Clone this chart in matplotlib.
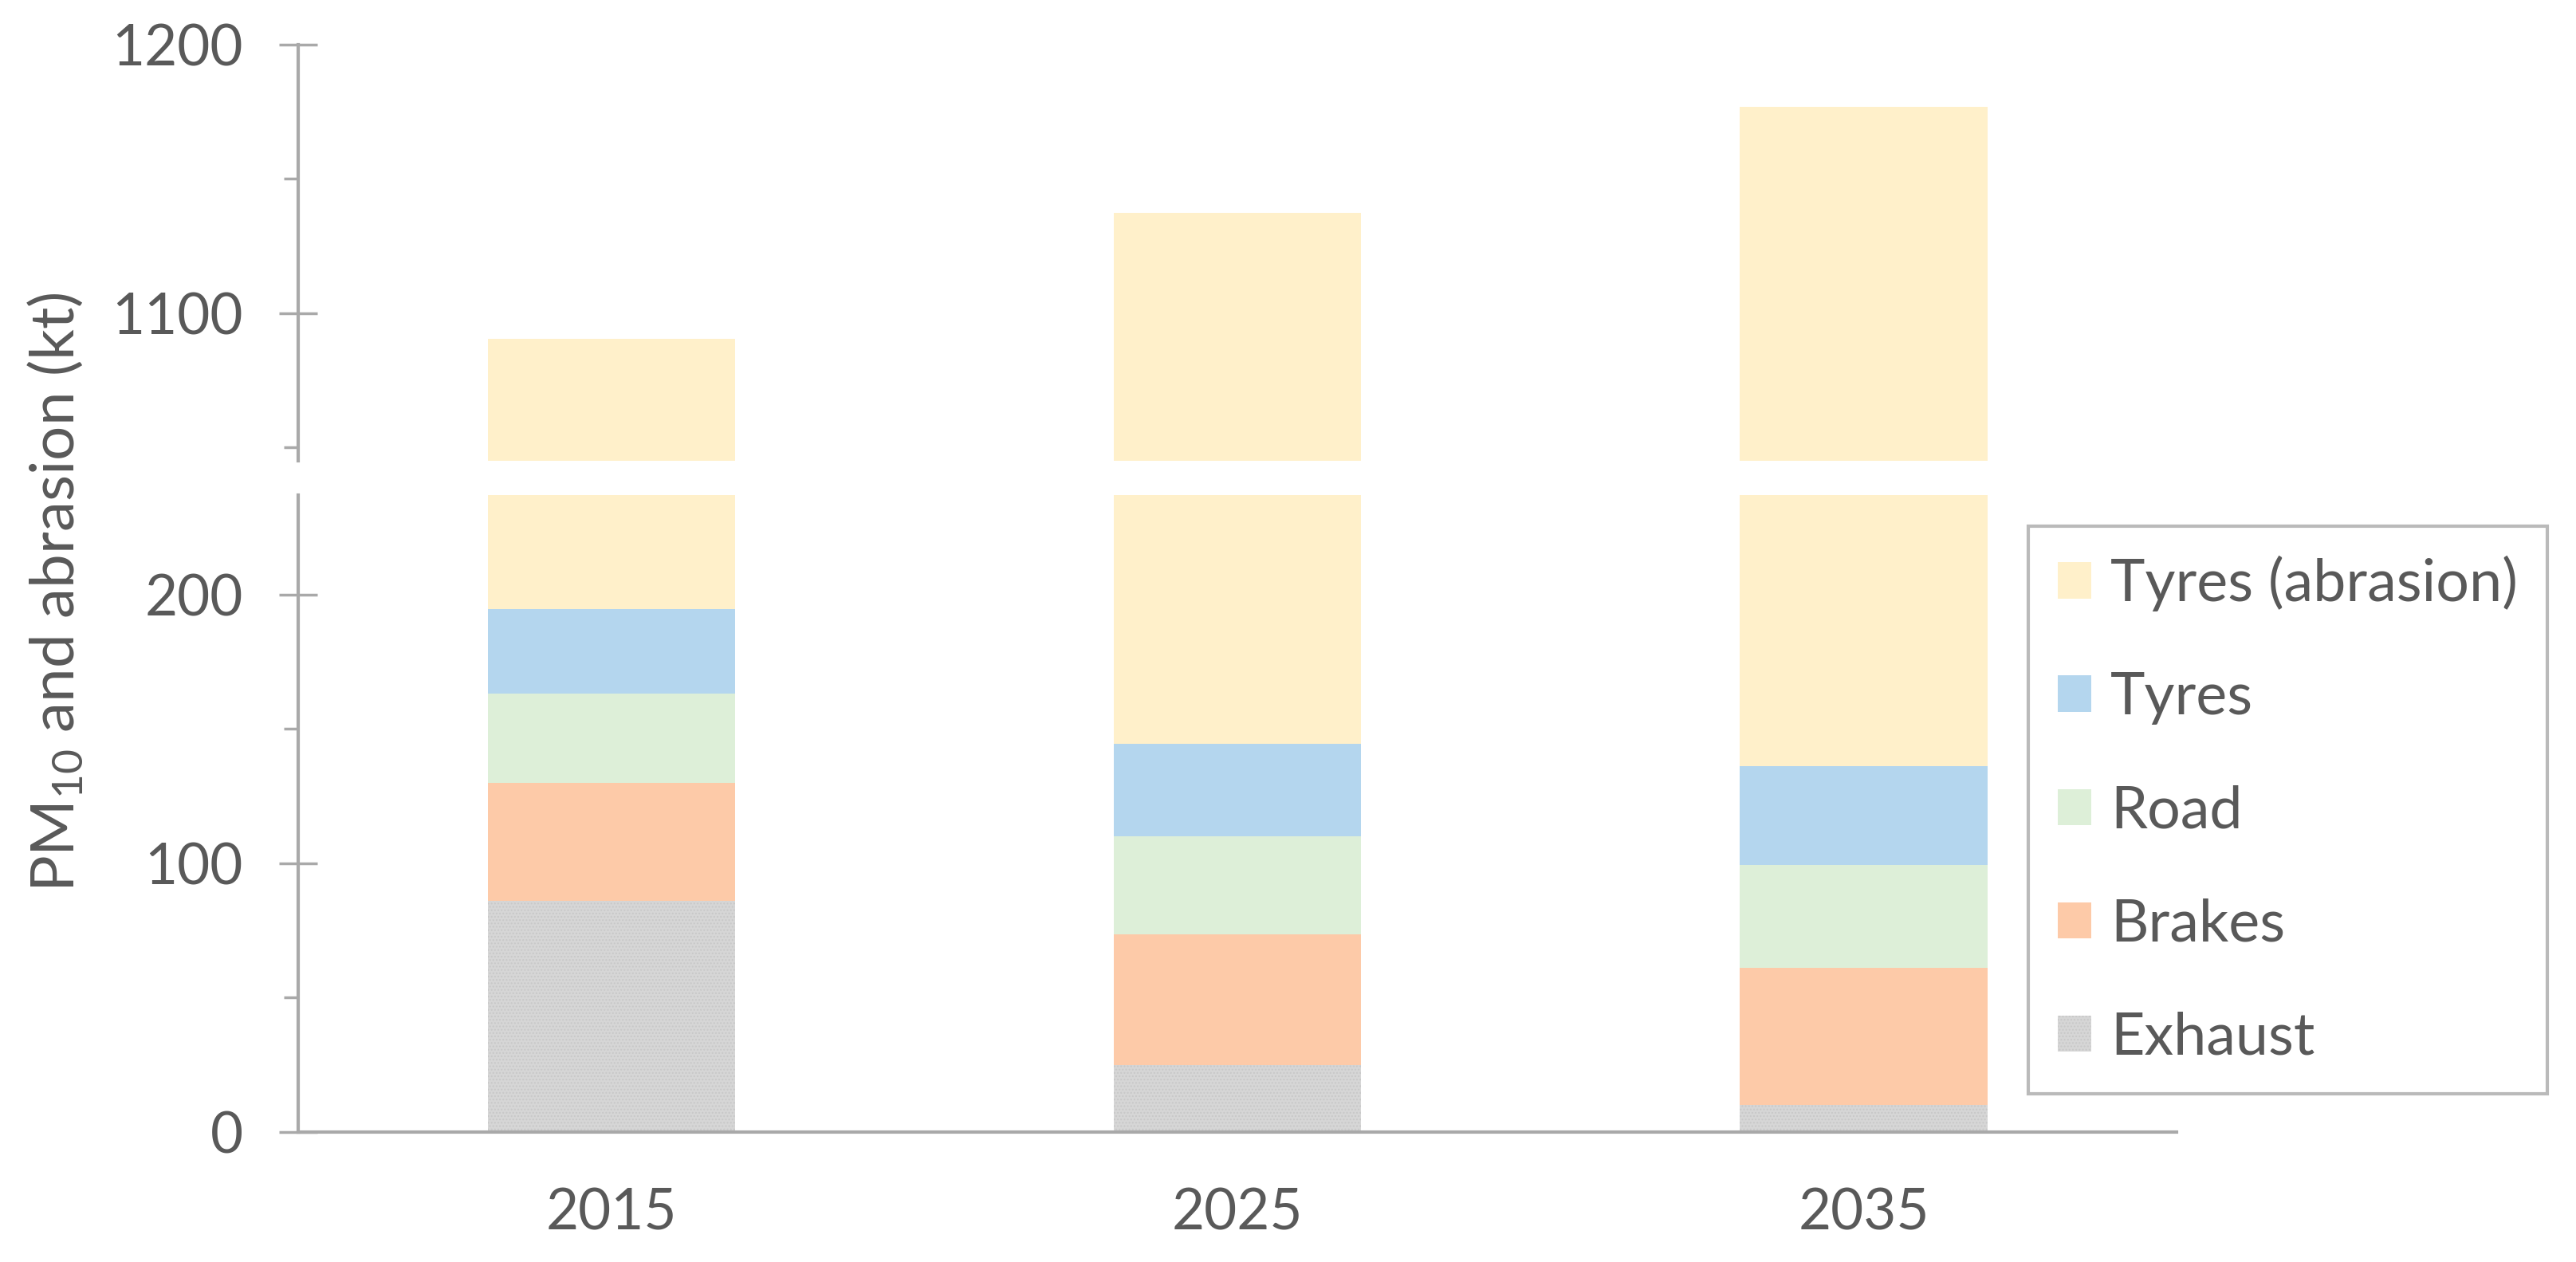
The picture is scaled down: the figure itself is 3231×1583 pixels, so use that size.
import matplotlib
matplotlib.use("Agg")
import matplotlib.pyplot as plt
import numpy as np

# data (kt), stacked bottom to top
years = ["2015", "2025", "2035"]
exhaust = [86, 25, 10]
brakes = [44, 48.5, 51]
road = [33, 36.5, 38.5]
tyres = [31.5, 34.5, 36.5]
tyres_abrasion = [896, 993, 1041]

series_names = ["Exhaust", "Brakes", "Road", "Tyres", "Tyres (abrasion)"]
series_values = [exhaust, brakes, road, tyres, tyres_abrasion]
colors = ["#D6D6D6", "#FDCAA8", "#DDEFD8", "#B4D6EE", "#FFF0CA"]

text_color = "#595959"
axis_color = "#A9A9A9"

plt.rcParams["font.family"] = ["Lato", "DejaVu Sans"]
plt.rcParams["mathtext.fontset"] = "custom"
plt.rcParams["mathtext.rm"] = "Lato"
plt.rcParams["mathtext.default"] = "regular"
plt.rcParams["hatch.linewidth"] = 1.0

fig = plt.figure(figsize=(32.31, 15.83), dpi=100)
left, right = 0.1158, 0.845
ax_top = fig.add_axes([left, 0.6348, right - left, 0.9646 - 0.6348])
ax_bot = fig.add_axes([left, 0.1030, right - left, 0.6077 - 0.1030])

x = np.arange(len(years))
width = 0.395


def draw_stack(ax):
    bottom = np.zeros(len(years))
    handles = []
    for name, vals, col in zip(series_names, series_values, colors):
        vals = np.array(vals, dtype=float)
        if name == "Exhaust":
            h = ax.bar(x, vals, width, bottom=bottom, color=col, label=name,
                       edgecolor="#C8C8C8", linewidth=0, hatch="....")
        else:
            h = ax.bar(x, vals, width, bottom=bottom, color=col, label=name,
                       linewidth=0)
        handles.append(h)
        bottom += vals
    return handles


draw_stack(ax_top)
handles = draw_stack(ax_bot)

ax_top.set_ylim(1045, 1200)
ax_bot.set_ylim(0, 237)
for ax in (ax_top, ax_bot):
    ax.set_xlim(-0.5, 2.5)
    for s in ("top", "right"):
        ax.spines[s].set_visible(False)
    ax.spines["left"].set_color(axis_color)
    ax.spines["left"].set_linewidth(3)
    ax.tick_params(axis="y", which="major", direction="inout", length=34,
                   width=2.5, color=axis_color, labelsize=51,
                   labelcolor=text_color, pad=33)
    ax.tick_params(axis="y", which="minor", direction="out", length=13,
                   width=2.5, color=axis_color)

ax_top.spines["bottom"].set_visible(False)
ax_top.set_xticks([])
ax_top.set_yticks([1100, 1200])
ax_top.set_yticks([1050, 1150], minor=True)

ax_bot.spines["bottom"].set_color(axis_color)
ax_bot.spines["bottom"].set_linewidth(3)
ax_bot.set_yticks([0, 100, 200])
ax_bot.set_yticks([50, 150], minor=True)
ax_bot.set_xticks(x)
ax_bot.set_xticklabels(years)
ax_bot.tick_params(axis="x", length=0, labelsize=51, labelcolor=text_color,
                   pad=50)

fig.text(0.0215, 0.531, "PM$_{10}$ and abrasion (kt)", rotation=90,
         ha="center", va="center", fontsize=55, color=text_color)

leg = fig.legend(handles[::-1], series_names[::-1], loc="upper left",
                 bbox_to_anchor=(0.7874, 0.5831), fontsize=53,
                 frameon=True, fancybox=False, handlelength=0.57,
                 handleheight=0.57, handletextpad=0.33, labelspacing=1.02,
                 borderpad=0.5, borderaxespad=0)
for t in leg.get_texts():
    t.set_color(text_color)
frame = leg.get_frame()
frame.set_edgecolor(axis_color)
frame.set_linewidth(3)

fig.savefig("out.png", dpi=100)
